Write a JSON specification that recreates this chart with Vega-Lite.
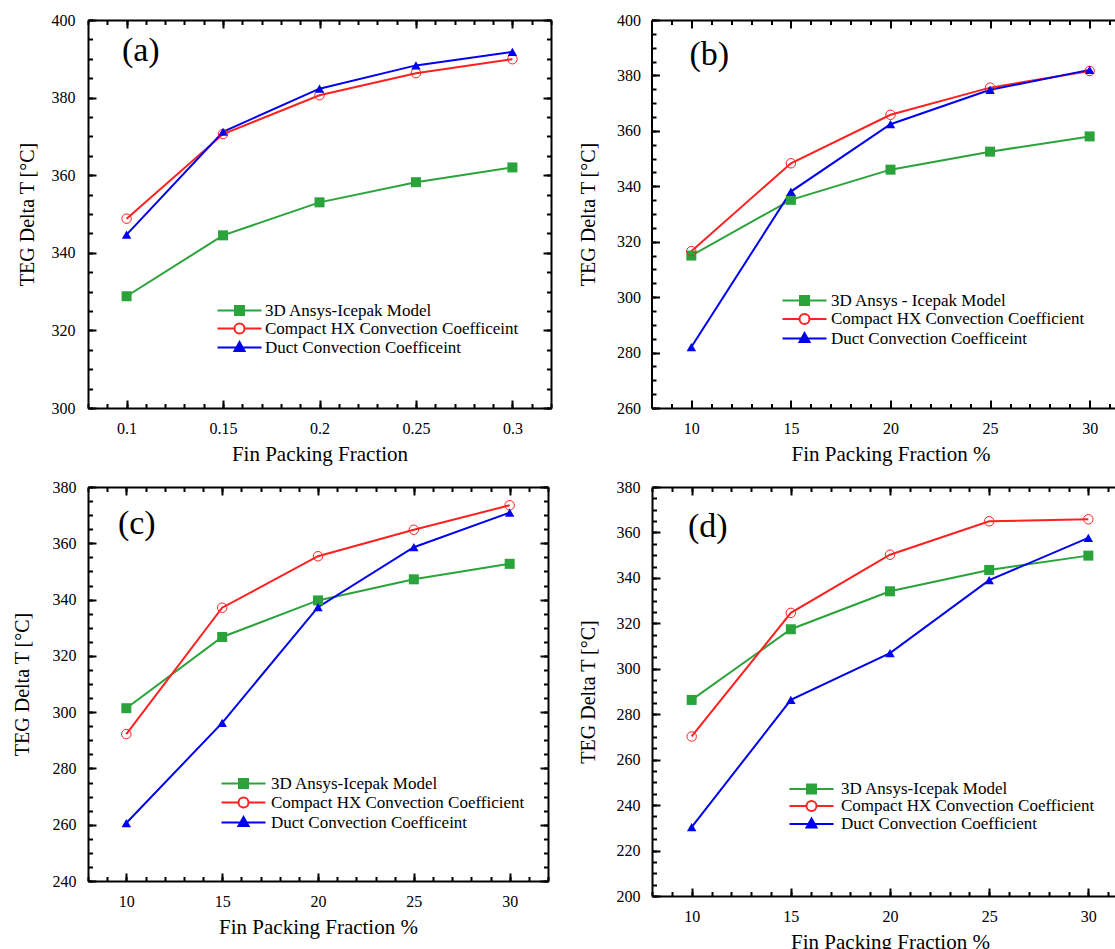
{
"$schema": "https://vega.github.io/schema/vega-lite/v6.json",
"background": "white",
"padding": {"left": 12, "top": 12, "right": 0, "bottom": 0},
"config": {
  "font": "Liberation Serif",
  "view": {"stroke": null},
  "axis": {"labelFont": "Liberation Serif", "titleFont": "Liberation Serif", "labelFontSize": 16, "titleFontSize": 21, "titleFontWeight": "normal", "labelColor": "black", "titleColor": "black", "domainColor": "black", "domainWidth": 2, "tickColor": "black", "tickWidth": 2, "grid": false},
  "axisLeft": {"titleFontSize": 20},
  "legend": {"labelFont": "Liberation Serif", "labelFontSize": 17, "labelColor": "black", "labelLimit": 0, "padding": 0, "symbolSize": 100, "symbolStrokeWidth": 2, "title": null},
  "text": {"font": "Liberation Serif", "fontSize": 34, "fontWeight": "normal", "fill": "black", "align": "left", "baseline": "top"}
},
"datasets": {
  "a": [
    {"x": 0.1, "y": 328.8, "s": "3D Ansys-Icepak Model"},
    {"x": 0.15, "y": 344.5, "s": "3D Ansys-Icepak Model"},
    {"x": 0.2, "y": 353.0, "s": "3D Ansys-Icepak Model"},
    {"x": 0.25, "y": 358.2, "s": "3D Ansys-Icepak Model"},
    {"x": 0.3, "y": 362.0, "s": "3D Ansys-Icepak Model"},
    {"x": 0.1, "y": 348.8, "s": "Compact HX Convection Coefficeint"},
    {"x": 0.15, "y": 370.6, "s": "Compact HX Convection Coefficeint"},
    {"x": 0.2, "y": 380.6, "s": "Compact HX Convection Coefficeint"},
    {"x": 0.25, "y": 386.3, "s": "Compact HX Convection Coefficeint"},
    {"x": 0.3, "y": 389.9, "s": "Compact HX Convection Coefficeint"},
    {"x": 0.1, "y": 344.7, "s": "Duct Convection Coefficeint"},
    {"x": 0.15, "y": 371.2, "s": "Duct Convection Coefficeint"},
    {"x": 0.2, "y": 382.3, "s": "Duct Convection Coefficeint"},
    {"x": 0.25, "y": 388.3, "s": "Duct Convection Coefficeint"},
    {"x": 0.3, "y": 391.8, "s": "Duct Convection Coefficeint"}
  ],
  "b": [
    {"x": 10, "y": 315.0, "s": "3D Ansys - Icepak Model"},
    {"x": 15, "y": 335.1, "s": "3D Ansys - Icepak Model"},
    {"x": 20, "y": 346.0, "s": "3D Ansys - Icepak Model"},
    {"x": 25, "y": 352.5, "s": "3D Ansys - Icepak Model"},
    {"x": 30, "y": 358.0, "s": "3D Ansys - Icepak Model"},
    {"x": 10, "y": 316.6, "s": "Compact HX Convection Coefficient"},
    {"x": 15, "y": 348.3, "s": "Compact HX Convection Coefficient"},
    {"x": 20, "y": 365.8, "s": "Compact HX Convection Coefficient"},
    {"x": 25, "y": 375.6, "s": "Compact HX Convection Coefficient"},
    {"x": 30, "y": 381.6, "s": "Compact HX Convection Coefficient"},
    {"x": 10, "y": 282.0, "s": "Duct Convection Coefficeint"},
    {"x": 15, "y": 338.1, "s": "Duct Convection Coefficeint"},
    {"x": 20, "y": 362.4, "s": "Duct Convection Coefficeint"},
    {"x": 25, "y": 374.8, "s": "Duct Convection Coefficeint"},
    {"x": 30, "y": 382.0, "s": "Duct Convection Coefficeint"}
  ],
  "c": [
    {"x": 10, "y": 301.4, "s": "3D Ansys-Icepak Model"},
    {"x": 15, "y": 326.7, "s": "3D Ansys-Icepak Model"},
    {"x": 20, "y": 339.7, "s": "3D Ansys-Icepak Model"},
    {"x": 25, "y": 347.2, "s": "3D Ansys-Icepak Model"},
    {"x": 30, "y": 352.7, "s": "3D Ansys-Icepak Model"},
    {"x": 10, "y": 292.2, "s": "Compact HX Convection Coefficient"},
    {"x": 15, "y": 337.1, "s": "Compact HX Convection Coefficient"},
    {"x": 20, "y": 355.4, "s": "Compact HX Convection Coefficient"},
    {"x": 25, "y": 364.8, "s": "Compact HX Convection Coefficient"},
    {"x": 30, "y": 373.5, "s": "Compact HX Convection Coefficient"},
    {"x": 10, "y": 260.6, "s": "Duct Convection Coefficeint"},
    {"x": 15, "y": 296.2, "s": "Duct Convection Coefficeint"},
    {"x": 20, "y": 337.3, "s": "Duct Convection Coefficeint"},
    {"x": 25, "y": 358.6, "s": "Duct Convection Coefficeint"},
    {"x": 30, "y": 370.9, "s": "Duct Convection Coefficeint"}
  ],
  "d": [
    {"x": 10, "y": 286.3, "s": "3D Ansys-Icepak Model"},
    {"x": 15, "y": 317.4, "s": "3D Ansys-Icepak Model"},
    {"x": 20, "y": 334.1, "s": "3D Ansys-Icepak Model"},
    {"x": 25, "y": 343.5, "s": "3D Ansys-Icepak Model"},
    {"x": 30, "y": 349.8, "s": "3D Ansys-Icepak Model"},
    {"x": 10, "y": 270.2, "s": "Compact HX Convection Coefficient"},
    {"x": 15, "y": 324.6, "s": "Compact HX Convection Coefficient"},
    {"x": 20, "y": 350.2, "s": "Compact HX Convection Coefficient"},
    {"x": 25, "y": 364.9, "s": "Compact HX Convection Coefficient"},
    {"x": 30, "y": 365.8, "s": "Compact HX Convection Coefficient"},
    {"x": 10, "y": 230.3, "s": "Duct Convection Coefficient"},
    {"x": 15, "y": 286.3, "s": "Duct Convection Coefficient"},
    {"x": 20, "y": 306.9, "s": "Duct Convection Coefficient"},
    {"x": 25, "y": 339.0, "s": "Duct Convection Coefficient"},
    {"x": 30, "y": 357.6, "s": "Duct Convection Coefficient"}
  ]
},
"vconcat": [
 {"hconcat": [
  {
   "width": 463, "height": 388,
   "data": {"name": "a"},
   "resolve": {"axis": {"x": "independent", "y": "independent"}},
   "layer": [
    {"mark": {"type": "line", "strokeWidth": 2},
     "encoding": {
      "x": {"field": "x", "type": "quantitative", "scale": {"domain": [0.08, 0.32], "nice": false, "zero": false},
            "axis": {"orient": "bottom", "values": [0.1, 0.15, 0.2, 0.25, 0.3], "format": "~g", "ticks": false, "labelPadding": 12, "title": "Fin Packing Fraction", "titlePadding": 7}},
      "y": {"field": "y", "type": "quantitative", "scale": {"domain": [300, 400], "nice": false, "zero": false},
            "axis": {"orient": "left", "values": [300, 320, 340, 360, 380, 400], "ticks": false, "labelPadding": 13, "title": "TEG Delta T [°C]", "titlePadding": 14}},
      "color": {"field": "s", "type": "nominal",
                "scale": {"domain": ["3D Ansys-Icepak Model", "Compact HX Convection Coefficeint", "Duct Convection Coefficeint"], "range": ["#2aa33a", "#ff2020", "#0000f0"]},
                "legend": {"orient": "none", "legendX": 143, "legendY": 282, "labelOffset": 17, "rowPadding": 0,
                  "encode": {"symbols": {"update": {
                    "shape": {"signal": "indexof(datum.value,'3D')===0 ? 'M-4.4,0H4.4M-0.9,-0.9H0.9V0.9H-0.9Z' : indexof(datum.value,'Compact')===0 ? 'M-4.4,0H-1M1,0H4.4M-1,0A1,1 0 1,1 1,0A1,1 0 1,1 -1,0Z' : 'M-4.4,0H4.4M0,-1.1L1,0.7H-1Z'"},
                    "fill": {"signal": "indexof(datum.value,'3D')===0 ? '#2aa33a' : indexof(datum.value,'Compact')===0 ? 'transparent' : '#0000f0'"},
                    "strokeWidth": {"value": 2}, "opacity": {"value": 1}}}}}}
     }},
    {"transform": [{"filter": {"field": "s", "equal": "3D Ansys-Icepak Model"}}],
     "mark": {"type": "point", "shape": "square", "filled": true, "color": "#2aa33a", "opacity": 1, "size": 100},
     "encoding": {
      "x": {"field": "x", "type": "quantitative", "axis": {"orient": "bottom", "values": [0.1, 0.15, 0.2, 0.25, 0.3], "offset": -8, "tickSize": 8, "labels": false, "domain": false, "title": null}},
      "y": {"field": "y", "type": "quantitative", "axis": {"orient": "left", "values": [300, 320, 340, 360, 380, 400], "offset": -8, "tickSize": 8, "labels": false, "domain": false, "title": null}}
     }},
    {"transform": [{"filter": {"field": "s", "equal": "Compact HX Convection Coefficeint"}}],
     "mark": {"type": "point", "shape": "circle", "filled": false, "color": "#ff2020", "opacity": 1, "size": 90, "strokeWidth": 1},
     "encoding": {
      "x": {"field": "x", "type": "quantitative", "axis": {"orient": "bottom", "values": [0.08,0.09,0.1,0.11,0.12,0.13,0.14,0.15,0.16,0.17,0.18,0.19,0.2,0.21,0.22,0.23,0.24,0.25,0.26,0.27,0.28,0.29,0.3,0.31,0.32], "offset": -4.5, "tickSize": 4.5, "labels": false, "domain": false, "title": null}},
      "y": {"field": "y", "type": "quantitative", "axis": {"orient": "left", "values": [300,305,310,315,320,325,330,335,340,345,350,355,360,365,370,375,380,385,390,395,400], "offset": -4.5, "tickSize": 4.5, "labels": false, "domain": false, "title": null}}
     }},
    {"transform": [{"filter": {"field": "s", "equal": "Duct Convection Coefficeint"}}],
     "mark": {"type": "point", "shape": "triangle-up", "filled": true, "color": "#0000f0", "opacity": 1, "size": 90},
     "encoding": {
      "x": {"field": "x", "type": "quantitative", "axis": {"orient": "top", "values": [0.1, 0.15, 0.2, 0.25, 0.3], "ticks": false, "labels": false, "title": null}},
      "y": {"field": "y", "type": "quantitative", "axis": {"orient": "right", "values": [300, 320, 340, 360, 380, 400], "ticks": false, "labels": false, "title": null}}
     }},
    {"mark": {"type": "point", "opacity": 0},
     "encoding": {
      "x": {"field": "x", "type": "quantitative", "axis": {"orient": "top", "values": [0.1, 0.15, 0.2, 0.25, 0.3], "offset": -8, "tickSize": 8, "labels": false, "domain": false, "title": null}},
      "y": {"field": "y", "type": "quantitative", "axis": {"orient": "right", "values": [300, 320, 340, 360, 380, 400], "offset": -8, "tickSize": 8, "labels": false, "domain": false, "title": null}}
     }},
    {"mark": {"type": "point", "opacity": 0},
     "encoding": {
      "x": {"field": "x", "type": "quantitative", "axis": {"orient": "top", "values": [0.08,0.09,0.1,0.11,0.12,0.13,0.14,0.15,0.16,0.17,0.18,0.19,0.2,0.21,0.22,0.23,0.24,0.25,0.26,0.27,0.28,0.29,0.3,0.31,0.32], "offset": -4.5, "tickSize": 4.5, "labels": false, "domain": false, "title": null}},
      "y": {"field": "y", "type": "quantitative", "axis": {"orient": "right", "values": [300,305,310,315,320,325,330,335,340,345,350,355,360,365,370,375,380,385,390,395,400], "offset": -4.5, "tickSize": 4.5, "labels": false, "domain": false, "title": null}}
     }},
    {"data": {"values": [{}]},
     "mark": {"type": "text", "text": "(a)"},
     "encoding": {"x": {"datum": 0.0976, "type": "quantitative", "axis": null}, "y": {"datum": 396.4, "type": "quantitative", "axis": null}}}
   ]
  },
  {
   "width": 478, "height": 388,
   "data": {"name": "b"},
   "resolve": {"axis": {"x": "independent", "y": "independent"}},
   "layer": [
    {"mark": {"type": "line", "strokeWidth": 2},
     "encoding": {
      "x": {"field": "x", "type": "quantitative", "scale": {"domain": [8, 32], "nice": false, "zero": false},
            "axis": {"orient": "bottom", "values": [10, 15, 20, 25, 30], "ticks": false, "labelPadding": 12, "title": "Fin Packing Fraction %", "titlePadding": 7}},
      "y": {"field": "y", "type": "quantitative", "scale": {"domain": [260, 400], "nice": false, "zero": false},
            "axis": {"orient": "left", "values": [260, 280, 300, 320, 340, 360, 380, 400], "ticks": false, "labelPadding": 11, "title": "TEG Delta T [°C]", "titlePadding": 18}},
      "color": {"field": "s", "type": "nominal",
                "scale": {"domain": ["3D Ansys - Icepak Model", "Compact HX Convection Coefficient", "Duct Convection Coefficeint"], "range": ["#2aa33a", "#ff2020", "#0000f0"]},
                "legend": {"orient": "none", "legendX": 144.5, "legendY": 272, "labelOffset": 18, "rowPadding": 0.5,
                  "encode": {"symbols": {"update": {
                    "shape": {"signal": "indexof(datum.value,'3D')===0 ? 'M-4.4,0H4.4M-0.9,-0.9H0.9V0.9H-0.9Z' : indexof(datum.value,'Compact')===0 ? 'M-4.4,0H-1M1,0H4.4M-1,0A1,1 0 1,1 1,0A1,1 0 1,1 -1,0Z' : 'M-4.4,0H4.4M0,-1.1L1,0.7H-1Z'"},
                    "fill": {"signal": "indexof(datum.value,'3D')===0 ? '#2aa33a' : indexof(datum.value,'Compact')===0 ? 'transparent' : '#0000f0'"},
                    "strokeWidth": {"value": 2}, "opacity": {"value": 1}}}}}}
     }},
    {"transform": [{"filter": {"field": "s", "equal": "3D Ansys - Icepak Model"}}],
     "mark": {"type": "point", "shape": "square", "filled": true, "color": "#2aa33a", "opacity": 1, "size": 100},
     "encoding": {
      "x": {"field": "x", "type": "quantitative", "axis": {"orient": "bottom", "values": [10, 15, 20, 25, 30], "offset": -8, "tickSize": 8, "labels": false, "domain": false, "title": null}},
      "y": {"field": "y", "type": "quantitative", "axis": {"orient": "left", "values": [260, 280, 300, 320, 340, 360, 380, 400], "offset": -8, "tickSize": 8, "labels": false, "domain": false, "title": null}}
     }},
    {"transform": [{"filter": {"field": "s", "equal": "Compact HX Convection Coefficient"}}],
     "mark": {"type": "point", "shape": "circle", "filled": false, "color": "#ff2020", "opacity": 1, "size": 90, "strokeWidth": 1},
     "encoding": {
      "x": {"field": "x", "type": "quantitative", "axis": {"orient": "bottom", "values": [8,9,10,11,12,13,14,15,16,17,18,19,20,21,22,23,24,25,26,27,28,29,30,31,32], "offset": -4.5, "tickSize": 4.5, "labels": false, "domain": false, "title": null}},
      "y": {"field": "y", "type": "quantitative", "axis": {"orient": "left", "values": [260,265,270,275,280,285,290,295,300,305,310,315,320,325,330,335,340,345,350,355,360,365,370,375,380,385,390,395,400], "offset": -4.5, "tickSize": 4.5, "labels": false, "domain": false, "title": null}}
     }},
    {"transform": [{"filter": {"field": "s", "equal": "Duct Convection Coefficeint"}}],
     "mark": {"type": "point", "shape": "triangle-up", "filled": true, "color": "#0000f0", "opacity": 1, "size": 90},
     "encoding": {
      "x": {"field": "x", "type": "quantitative", "axis": {"orient": "top", "values": [10, 15, 20, 25, 30], "ticks": false, "labels": false, "title": null}},
      "y": {"field": "y", "type": "quantitative", "axis": {"orient": "right", "values": [260, 280, 300, 320, 340, 360, 380, 400], "ticks": false, "labels": false, "title": null}}
     }},
    {"mark": {"type": "point", "opacity": 0},
     "encoding": {
      "x": {"field": "x", "type": "quantitative", "axis": {"orient": "top", "values": [10, 15, 20, 25, 30], "offset": -8, "tickSize": 8, "labels": false, "domain": false, "title": null}},
      "y": {"field": "y", "type": "quantitative", "axis": {"orient": "right", "values": [260, 280, 300, 320, 340, 360, 380, 400], "offset": -8, "tickSize": 8, "labels": false, "domain": false, "title": null}}
     }},
    {"mark": {"type": "point", "opacity": 0},
     "encoding": {
      "x": {"field": "x", "type": "quantitative", "axis": {"orient": "top", "values": [8,9,10,11,12,13,14,15,16,17,18,19,20,21,22,23,24,25,26,27,28,29,30,31,32], "offset": -4.5, "tickSize": 4.5, "labels": false, "domain": false, "title": null}},
      "y": {"field": "y", "type": "quantitative", "axis": {"orient": "right", "values": [260,265,270,275,280,285,290,295,300,305,310,315,320,325,330,335,340,345,350,355,360,365,370,375,380,385,390,395,400], "offset": -4.5, "tickSize": 4.5, "labels": false, "domain": false, "title": null}}
     }},
    {"data": {"values": [{}]},
     "mark": {"type": "text", "text": "(b)"},
     "encoding": {"x": {"datum": 9.91, "type": "quantitative", "axis": null}, "y": {"datum": 393.5, "type": "quantitative", "axis": null}}}
   ]
  }
 ], "spacing": 26.5,
 "resolve": {"scale": {"color": "independent"}, "legend": {"color": "independent"}}},
 {"hconcat": [
  {
   "width": 460, "height": 394,
   "data": {"name": "c"},
   "resolve": {"axis": {"x": "independent", "y": "independent"}},
   "layer": [
    {"mark": {"type": "line", "strokeWidth": 2},
     "encoding": {
      "x": {"field": "x", "type": "quantitative", "scale": {"domain": [8, 32], "nice": false, "zero": false},
            "axis": {"orient": "bottom", "values": [10, 15, 20, 25, 30], "ticks": false, "labelPadding": 12, "title": "Fin Packing Fraction %", "titlePadding": 7}},
      "y": {"field": "y", "type": "quantitative", "scale": {"domain": [240, 380], "nice": false, "zero": false},
            "axis": {"orient": "left", "values": [240, 260, 280, 300, 320, 340, 360, 380], "ticks": false, "labelPadding": 12, "title": "TEG Delta T [°C]", "titlePadding": 20}},
      "color": {"field": "s", "type": "nominal",
                "scale": {"domain": ["3D Ansys-Icepak Model", "Compact HX Convection Coefficient", "Duct Convection Coefficeint"], "range": ["#2aa33a", "#ff2020", "#0000f0"]},
                "legend": {"orient": "none", "legendX": 147, "legendY": 288, "labelOffset": 19, "rowPadding": 1,
                  "encode": {"symbols": {"update": {
                    "shape": {"signal": "indexof(datum.value,'3D')===0 ? 'M-4.4,0H4.4M-0.9,-0.9H0.9V0.9H-0.9Z' : indexof(datum.value,'Compact')===0 ? 'M-4.4,0H-1M1,0H4.4M-1,0A1,1 0 1,1 1,0A1,1 0 1,1 -1,0Z' : 'M-4.4,0H4.4M0,-1.1L1,0.7H-1Z'"},
                    "fill": {"signal": "indexof(datum.value,'3D')===0 ? '#2aa33a' : indexof(datum.value,'Compact')===0 ? 'transparent' : '#0000f0'"},
                    "strokeWidth": {"value": 2}, "opacity": {"value": 1}}}}}}
     }},
    {"transform": [{"filter": {"field": "s", "equal": "3D Ansys-Icepak Model"}}],
     "mark": {"type": "point", "shape": "square", "filled": true, "color": "#2aa33a", "opacity": 1, "size": 100},
     "encoding": {
      "x": {"field": "x", "type": "quantitative", "axis": {"orient": "bottom", "values": [10, 15, 20, 25, 30], "offset": -8, "tickSize": 8, "labels": false, "domain": false, "title": null}},
      "y": {"field": "y", "type": "quantitative", "axis": {"orient": "left", "values": [240, 260, 280, 300, 320, 340, 360, 380], "offset": -8, "tickSize": 8, "labels": false, "domain": false, "title": null}}
     }},
    {"transform": [{"filter": {"field": "s", "equal": "Compact HX Convection Coefficient"}}],
     "mark": {"type": "point", "shape": "circle", "filled": false, "color": "#ff2020", "opacity": 1, "size": 90, "strokeWidth": 1},
     "encoding": {
      "x": {"field": "x", "type": "quantitative", "axis": {"orient": "bottom", "values": [8,9,10,11,12,13,14,15,16,17,18,19,20,21,22,23,24,25,26,27,28,29,30,31,32], "offset": -4.5, "tickSize": 4.5, "labels": false, "domain": false, "title": null}},
      "y": {"field": "y", "type": "quantitative", "axis": {"orient": "left", "values": [240,245,250,255,260,265,270,275,280,285,290,295,300,305,310,315,320,325,330,335,340,345,350,355,360,365,370,375,380], "offset": -4.5, "tickSize": 4.5, "labels": false, "domain": false, "title": null}}
     }},
    {"transform": [{"filter": {"field": "s", "equal": "Duct Convection Coefficeint"}}],
     "mark": {"type": "point", "shape": "triangle-up", "filled": true, "color": "#0000f0", "opacity": 1, "size": 90},
     "encoding": {
      "x": {"field": "x", "type": "quantitative", "axis": {"orient": "top", "values": [10, 15, 20, 25, 30], "ticks": false, "labels": false, "title": null}},
      "y": {"field": "y", "type": "quantitative", "axis": {"orient": "right", "values": [240, 260, 280, 300, 320, 340, 360, 380], "ticks": false, "labels": false, "title": null}}
     }},
    {"mark": {"type": "point", "opacity": 0},
     "encoding": {
      "x": {"field": "x", "type": "quantitative", "axis": {"orient": "top", "values": [10, 15, 20, 25, 30], "offset": -8, "tickSize": 8, "labels": false, "domain": false, "title": null}},
      "y": {"field": "y", "type": "quantitative", "axis": {"orient": "right", "values": [240, 260, 280, 300, 320, 340, 360, 380], "offset": -8, "tickSize": 8, "labels": false, "domain": false, "title": null}}
     }},
    {"mark": {"type": "point", "opacity": 0},
     "encoding": {
      "x": {"field": "x", "type": "quantitative", "axis": {"orient": "top", "values": [8,9,10,11,12,13,14,15,16,17,18,19,20,21,22,23,24,25,26,27,28,29,30,31,32], "offset": -4.5, "tickSize": 4.5, "labels": false, "domain": false, "title": null}},
      "y": {"field": "y", "type": "quantitative", "axis": {"orient": "right", "values": [240,245,250,255,260,265,270,275,280,285,290,295,300,305,310,315,320,325,330,335,340,345,350,355,360,365,370,375,380], "offset": -4.5, "tickSize": 4.5, "labels": false, "domain": false, "title": null}}
     }},
    {"data": {"values": [{}]},
     "mark": {"type": "text", "text": "(c)"},
     "encoding": {"x": {"datum": 9.56, "type": "quantitative", "axis": null}, "y": {"datum": 372.9, "type": "quantitative", "axis": null}}}
   ]
  },
  {
   "width": 476, "height": 409,
   "data": {"name": "d"},
   "resolve": {"axis": {"x": "independent", "y": "independent"}},
   "layer": [
    {"mark": {"type": "line", "strokeWidth": 2},
     "encoding": {
      "x": {"field": "x", "type": "quantitative", "scale": {"domain": [8, 32], "nice": false, "zero": false},
            "axis": {"orient": "bottom", "values": [10, 15, 20, 25, 30], "ticks": false, "labelPadding": 12, "title": "Fin Packing Fraction %", "titlePadding": 7}},
      "y": {"field": "y", "type": "quantitative", "scale": {"domain": [200, 380], "nice": false, "zero": false},
            "axis": {"orient": "left", "values": [200, 220, 240, 260, 280, 300, 320, 340, 360, 380], "ticks": false, "labelPadding": 12, "title": "TEG Delta T [°C]", "titlePadding": 18}},
      "color": {"field": "s", "type": "nominal",
                "scale": {"domain": ["3D Ansys-Icepak Model", "Compact HX Convection Coefficient", "Duct Convection Coefficient"], "range": ["#2aa33a", "#ff2020", "#0000f0"]},
                "legend": {"orient": "none", "legendX": 151, "legendY": 293.5, "labelOffset": 21, "rowPadding": -2.5,
                  "encode": {"symbols": {"update": {
                    "shape": {"signal": "indexof(datum.value,'3D')===0 ? 'M-4.4,0H4.4M-0.9,-0.9H0.9V0.9H-0.9Z' : indexof(datum.value,'Compact')===0 ? 'M-4.4,0H-1M1,0H4.4M-1,0A1,1 0 1,1 1,0A1,1 0 1,1 -1,0Z' : 'M-4.4,0H4.4M0,-1.1L1,0.7H-1Z'"},
                    "fill": {"signal": "indexof(datum.value,'3D')===0 ? '#2aa33a' : indexof(datum.value,'Compact')===0 ? 'transparent' : '#0000f0'"},
                    "strokeWidth": {"value": 2}, "opacity": {"value": 1}}}}}}
     }},
    {"transform": [{"filter": {"field": "s", "equal": "3D Ansys-Icepak Model"}}],
     "mark": {"type": "point", "shape": "square", "filled": true, "color": "#2aa33a", "opacity": 1, "size": 100},
     "encoding": {
      "x": {"field": "x", "type": "quantitative", "axis": {"orient": "bottom", "values": [10, 15, 20, 25, 30], "offset": -8, "tickSize": 8, "labels": false, "domain": false, "title": null}},
      "y": {"field": "y", "type": "quantitative", "axis": {"orient": "left", "values": [200, 220, 240, 260, 280, 300, 320, 340, 360, 380], "offset": -8, "tickSize": 8, "labels": false, "domain": false, "title": null}}
     }},
    {"transform": [{"filter": {"field": "s", "equal": "Compact HX Convection Coefficient"}}],
     "mark": {"type": "point", "shape": "circle", "filled": false, "color": "#ff2020", "opacity": 1, "size": 90, "strokeWidth": 1},
     "encoding": {
      "x": {"field": "x", "type": "quantitative", "axis": {"orient": "bottom", "values": [8,9,10,11,12,13,14,15,16,17,18,19,20,21,22,23,24,25,26,27,28,29,30,31,32], "offset": -4.5, "tickSize": 4.5, "labels": false, "domain": false, "title": null}},
      "y": {"field": "y", "type": "quantitative", "axis": {"orient": "left", "values": [200,205,210,215,220,225,230,235,240,245,250,255,260,265,270,275,280,285,290,295,300,305,310,315,320,325,330,335,340,345,350,355,360,365,370,375,380], "offset": -4.5, "tickSize": 4.5, "labels": false, "domain": false, "title": null}}
     }},
    {"transform": [{"filter": {"field": "s", "equal": "Duct Convection Coefficient"}}],
     "mark": {"type": "point", "shape": "triangle-up", "filled": true, "color": "#0000f0", "opacity": 1, "size": 90},
     "encoding": {
      "x": {"field": "x", "type": "quantitative", "axis": {"orient": "top", "values": [10, 15, 20, 25, 30], "ticks": false, "labels": false, "title": null}},
      "y": {"field": "y", "type": "quantitative", "axis": {"orient": "right", "values": [200, 220, 240, 260, 280, 300, 320, 340, 360, 380], "ticks": false, "labels": false, "title": null}}
     }},
    {"mark": {"type": "point", "opacity": 0},
     "encoding": {
      "x": {"field": "x", "type": "quantitative", "axis": {"orient": "top", "values": [10, 15, 20, 25, 30], "offset": -8, "tickSize": 8, "labels": false, "domain": false, "title": null}},
      "y": {"field": "y", "type": "quantitative", "axis": {"orient": "right", "values": [200, 220, 240, 260, 280, 300, 320, 340, 360, 380], "offset": -8, "tickSize": 8, "labels": false, "domain": false, "title": null}}
     }},
    {"mark": {"type": "point", "opacity": 0},
     "encoding": {
      "x": {"field": "x", "type": "quantitative", "axis": {"orient": "top", "values": [8,9,10,11,12,13,14,15,16,17,18,19,20,21,22,23,24,25,26,27,28,29,30,31,32], "offset": -4.5, "tickSize": 4.5, "labels": false, "domain": false, "title": null}},
      "y": {"field": "y", "type": "quantitative", "axis": {"orient": "right", "values": [200,205,210,215,220,225,230,235,240,245,250,255,260,265,270,275,280,285,290,295,300,305,310,315,320,325,330,335,340,345,350,355,360,365,370,375,380], "offset": -4.5, "tickSize": 4.5, "labels": false, "domain": false, "title": null}}
     }},
    {"data": {"values": [{}]},
     "mark": {"type": "text", "text": "(d)"},
     "encoding": {"x": {"datum": 9.81, "type": "quantitative", "axis": null}, "y": {"datum": 369.9, "type": "quantitative", "axis": null}}}
   ]
  }
 ], "spacing": 29,
 "resolve": {"scale": {"color": "independent"}, "legend": {"color": "independent"}}}
],
"spacing": 15,
"resolve": {"scale": {"color": "independent"}, "legend": {"color": "independent"}}
}
